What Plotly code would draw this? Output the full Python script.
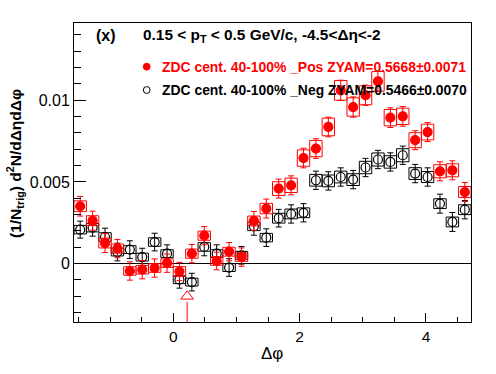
import numpy as np
import plotly.graph_objects as go

# ---------------- data ----------------
bin_width = 0.19635
dphi = [-1.4726, -1.2763, -1.0799, -0.8836, -0.6872, -0.4909, -0.2945, -0.0982,
        0.0982, 0.2945, 0.4909, 0.6872, 0.8836, 1.0799, 1.2763, 1.4726,
        1.6690, 1.8653, 2.0617, 2.2580, 2.4544, 2.6507, 2.8471, 3.0434,
        3.2398, 3.4361, 3.6325, 3.8288, 4.0252, 4.2215, 4.4179, 4.6142]

pos_vals = [0.00351, 0.00263, 0.00126, 0.00092, -0.00045, -0.00037, -0.00027, 0.00003,
            -0.00048, 0.00061, 0.00171, 0.00016, 0.00073, 0.00040, 0.00261, 0.00337,
            0.00459, 0.00479, 0.00646, 0.00704, 0.00836, 0.01060, 0.00958, 0.01030,
            0.01115, 0.00893, 0.00901, 0.00755, 0.00805, 0.00565, 0.00571, 0.00438]
pos_stat = [6.0, 5.8, 5.8, 5.6, 5.6, 5.6, 5.6, 5.6, 5.6, 5.6, 5.6, 5.4, 5.6, 5.6, 5.8, 5.8,
            5.8, 5.8, 6.0, 6.0, 6.0, 6.2, 6.2, 6.2, 6.2, 6.0, 6.0, 5.8, 5.8, 5.8, 5.8, 5.8]
pos_sys = [3.3, 3.0, 3.0, 2.8, 2.6, 2.6, 2.6, 2.6, 3.0, 2.8, 2.8, 2.6, 2.7, 2.6, 3.0, 3.2,
           4.2, 4.4, 5.0, 5.0, 5.4, 6.0, 5.6, 5.8, 6.0, 5.0, 5.0, 4.6, 4.8, 4.0, 4.0, 3.4]

neg_vals = [0.00208, 0.00220, 0.00163, 0.00071, 0.00086, 0.00040, 0.00132, 0.00061,
            -0.00098, -0.00113, 0.00102, 0.00061, -0.00024, 0.00051, 0.00228, 0.00159,
            0.00278, 0.00304, 0.00311, 0.00510, 0.00506, 0.00530, 0.00514, 0.00588,
            0.00637, 0.00622, 0.00663, 0.00551, 0.00530, 0.00367, 0.00255, 0.00330]
neg_stat = [5.2, 5.2, 5.4, 5.4, 5.4, 5.4, 5.4, 5.4, 5.2, 5.4, 5.4, 5.4, 5.4, 5.4, 5.4, 5.4,
            5.4, 5.6, 5.6, 5.6, 5.6, 5.6, 5.6, 5.6, 5.6, 5.6, 5.6, 5.6, 5.6, 5.8, 5.8, 5.6]
neg_sys = [2.6, 2.6, 2.6, 2.4, 2.4, 2.4, 2.6, 2.4, 2.4, 2.4, 2.6, 2.4, 2.4, 2.4, 2.6, 2.6,
           3.0, 3.0, 3.0, 3.6, 3.6, 3.6, 3.6, 3.8, 4.0, 3.8, 4.0, 3.6, 3.4, 3.0, 3.0, 3.0]
err_scale = 1e-4

zyam_x = 0.22  # arrow marking ZYAM minimum

y_tickvals = [0, 0.005, 0.01]
y_ticktext = ["0", "0.005", "0.01"]
x_tickvals = [0, 2, 4]
x_ticktext = ["0", "2", "4"]

title_text = "0.15 < p<sub>T</sub> < 0.5 GeV/c, -4.5<Δη<-2"
panel_label = "(x)"
pos_label = "ZDC cent. 40-100% _Pos ZYAM=0.5668±0.0071"
neg_label = "ZDC cent. 40-100% _Neg ZYAM=0.5466±0.0070"

x_range = [-np.pi / 2, 3 * np.pi / 2]
y_range = [-0.00357, 0.01472]

RED = "#ff0000"
BLK = "#000000"
FONT = "Liberation Sans"

# pixel geometry of the 496x374 window (page body margin removed below)
W, H = 496, 374
L, R, T, B = 74, 25, 23, 52
PW, PH = W - L - R, H - T - B


def px_x(px):
    return (px - L) / PW


def px_y(py):
    return (H - B - py) / PH


def boxes(xs, vals, sys):
    bx, by = [], []
    for x, v, s in zip(xs, vals, sys):
        s = s * err_scale
        x0, x1 = x - bin_width / 2, x + bin_width / 2
        bx += [x0, x1, x1, x0, x0, None]
        by += [v - s, v - s, v + s, v + s, v - s, None]
    return bx, by


fig = go.Figure()

for vals, stat, sys, col, sym in [
    (neg_vals, neg_stat, neg_sys, BLK, "circle-open"),
    (pos_vals, pos_stat, pos_sys, RED, "circle"),
]:
    bx, by = boxes(dphi, vals, sys)
    fig.add_trace(go.Scatter(x=bx, y=by, mode="lines",
                             line=dict(color=col, width=1), hoverinfo="skip",
                             showlegend=False))
    fig.add_trace(go.Scatter(
        x=dphi, y=vals, mode="markers",
        marker=dict(symbol=sym, size=9, color=col,
                    line=dict(color=col, width=1.2)),
        error_y=dict(type="data", array=[e * err_scale for e in stat],
                     color=col, thickness=1, width=3),
        showlegend=False))

# ZYAM arrow
fig.add_trace(go.Scatter(x=[zyam_x], y=[-0.00200], mode="markers",
                         marker=dict(symbol="triangle-up-open", size=11,
                                     color=RED, line=dict(color=RED, width=1)),
                         showlegend=False, hoverinfo="skip"))
fig.add_shape(type="line", x0=zyam_x, x1=zyam_x, y0=-0.00235, y1=y_range[0],
              xref="x", yref="y", line=dict(color=RED, width=1))

# legend markers
fig.add_shape(type="circle", xref="paper", yref="paper",
              xsizemode="pixel", ysizemode="pixel",
              xanchor=px_x(146.7), yanchor=px_y(66.7),
              x0=-3.4, x1=3.4, y0=-3.4, y1=3.4,
              fillcolor=RED, line=dict(color=RED, width=1))
fig.add_shape(type="circle", xref="paper", yref="paper",
              xsizemode="pixel", ysizemode="pixel",
              xanchor=px_x(146.7), yanchor=px_y(90),
              x0=-3.4, x1=3.4, y0=-3.4, y1=3.4,
              line=dict(color=BLK, width=1))

ann = [
    dict(text="<b>" + panel_label + "</b>", x=px_x(94), y=px_y(36),
         xanchor="left", yanchor="middle", font=dict(size=16, color=BLK)),
    dict(text="<b>" + title_text + "</b>", x=px_x(141), y=px_y(36),
         xanchor="left", yanchor="middle", font=dict(size=15.4, color=BLK)),
    dict(text="<b>" + pos_label + "</b>", x=px_x(160), y=px_y(67),
         xanchor="left", yanchor="middle", font=dict(size=13.9, color=RED)),
    dict(text="<b>" + neg_label + "</b>", x=px_x(160), y=px_y(90),
         xanchor="left", yanchor="middle", font=dict(size=13.9, color=BLK)),
    dict(text="<b>(1/N<sub>trig</sub>) d<sup>2</sup>N/dΔηdΔφ</b>",
         x=px_x(15), y=px_y(164), textangle=-90,
         xanchor="center", yanchor="middle", font=dict(size=15.5, color=BLK)),
    dict(text="Δφ", x=px_x(272), y=px_y(353),
         xanchor="center", yanchor="middle", font=dict(size=17, color=BLK)),
]
for a in ann:
    a.update(xref="paper", yref="paper", showarrow=False)
fig.update_layout(annotations=ann)

fig.update_layout(
    width=W, height=H,
    margin=dict(l=L, r=R, t=T, b=B, pad=0, autoexpand=False),
    paper_bgcolor="white", plot_bgcolor="white",
    font=dict(family=FONT, size=15, color=BLK),
    showlegend=False,
)
fig.update_xaxes(range=x_range, showgrid=False, zeroline=False, automargin=False,
                 showline=True, linecolor=BLK, linewidth=1, mirror=True,
                 ticks="inside", ticklen=9, tickwidth=1, tickcolor=BLK,
                 tickmode="array", tickvals=x_tickvals, ticktext=x_ticktext,
                 tickfont=dict(size=15.5),
                 minor=dict(ticks="inside", ticklen=5, tickmode="linear",
                            tick0=0, dtick=0.5, tickcolor=BLK, showgrid=False))
fig.update_yaxes(range=y_range, showgrid=False, automargin=False,
                 zeroline=True, zerolinecolor=BLK, zerolinewidth=1,
                 showline=True, linecolor=BLK, linewidth=1, mirror=True,
                 ticks="inside", ticklen=12, tickwidth=1, tickcolor=BLK,
                 tickmode="array", tickvals=y_tickvals, ticktext=y_ticktext,
                 tickfont=dict(size=16),
                 minor=dict(ticks="inside", ticklen=7, tickmode="linear",
                            tick0=0, dtick=0.001, tickcolor=BLK, showgrid=False))

fig.write_html("out.html",
               config={"displayModeBar": False},
               post_script="document.body.style.margin='0';"
                           "document.body.style.overflow='hidden';")
